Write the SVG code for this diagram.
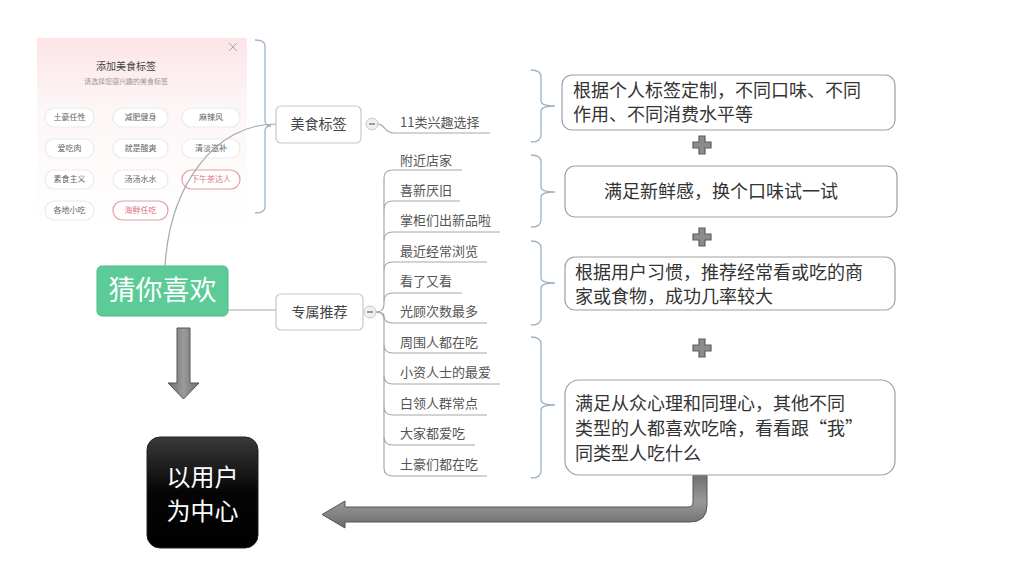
<svg xmlns="http://www.w3.org/2000/svg" width="1024" height="576" viewBox="0 0 1024 576">
<defs>
<linearGradient id="pinkbg" x1="0" y1="0" x2="0" y2="1">
<stop offset="0" stop-color="#fce4e7"/><stop offset="0.35" stop-color="#fdf6f6"/><stop offset="1" stop-color="#ffffff"/>
</linearGradient>
<linearGradient id="blk" x1="0" y1="0" x2="0" y2="1">
<stop offset="0" stop-color="#3a3a3a"/><stop offset="0.5" stop-color="#050505"/><stop offset="1" stop-color="#000"/>
</linearGradient>
<linearGradient id="grayv" x1="0" y1="0" x2="1" y2="0">
<stop offset="0" stop-color="#6e6e6e"/><stop offset="0.5" stop-color="#9a9a9a"/><stop offset="1" stop-color="#6e6e6e"/>
</linearGradient>
<linearGradient id="grayh" x1="0" y1="0" x2="0" y2="1">
<stop offset="0" stop-color="#707070"/><stop offset="0.5" stop-color="#999"/><stop offset="1" stop-color="#6a6a6a"/>
</linearGradient>
<symbol id="plus" viewBox="0 0 20 20">
<path d="M7 1h6v6h6v6h-6v6h-6v-6h-6v-6h6z" fill="#8c8c8c" stroke="#5e5e5e" stroke-width="1.2"/>
</symbol>
</defs>
<style>
text{font-family:"Noto Sans CJK SC","Noto Sans",sans-serif}
.pill{fill:#fff;stroke:#ececec;stroke-width:1.2}
.pillp{fill:#fff;stroke:#e3a0a8;stroke-width:1.2}
.pt{font-size:8px;fill:#666;text-anchor:middle}
.ptp{font-size:8px;fill:#e07080;text-anchor:middle}
.node{fill:#fff;stroke:#c8c8c8;stroke-width:1.2}
.nt{font-size:14px;fill:#444;text-anchor:middle}
.sub{font-size:13px;fill:#555}
.conn{fill:none;stroke:#a8a8a8;stroke-width:1.2}
.brace{fill:none;stroke:#9fb3c8;stroke-width:1.3}
.box{fill:#fff;stroke:#a0a0a0;stroke-width:1.2}
.bt{font-size:18px;fill:#333}
.tog{fill:#efefef;stroke:#c8c8c8;stroke-width:1}
</style>
<rect width="1024" height="576" fill="#fff"/>

<g id="screenshot">
<rect x="37" y="38" width="210" height="193" fill="url(#pinkbg)"/>
<path d="M229 43l8 8M237 43l-8 8" stroke="#aaa" stroke-width="1"/>
<text x="126" y="70" font-size="10" fill="#444" text-anchor="middle">添加美食标签</text>
<text x="126" y="84" font-size="7" fill="#999" text-anchor="middle">请选择您感兴趣的美食标签</text>
<rect class="pill" x="45" y="108" width="49" height="19" rx="9.5"/><text class="pt" x="69.5" y="120">土豪任性</text>
<rect class="pill" x="113" y="108" width="55" height="19" rx="9.5"/><text class="pt" x="140.5" y="120">减肥健身</text>
<rect class="pill" x="182" y="108" width="58" height="19" rx="9.5"/><text class="pt" x="211" y="120">麻辣风</text>
<rect class="pill" x="45" y="139" width="49" height="19" rx="9.5"/><text class="pt" x="69.5" y="151">爱吃肉</text>
<rect class="pill" x="113" y="139" width="55" height="19" rx="9.5"/><text class="pt" x="140.5" y="151">就是酸爽</text>
<rect class="pill" x="182" y="139" width="58" height="19" rx="9.5"/><text class="pt" x="211" y="151">清淡滋补</text>
<rect class="pill" x="45" y="170" width="49" height="19" rx="9.5"/><text class="pt" x="69.5" y="182">素食主义</text>
<rect class="pill" x="113" y="170" width="55" height="19" rx="9.5"/><text class="pt" x="140.5" y="182">汤汤水水</text>
<rect class="pillp" x="182" y="170" width="58" height="19" rx="9.5"/><text class="ptp" x="211" y="182">下午茶达人</text>
<rect class="pill" x="45" y="201" width="49" height="19" rx="9.5"/><text class="pt" x="69.5" y="213">各地小吃</text>
<rect class="pillp" x="113" y="201" width="55" height="19" rx="9.5"/><text class="ptp" x="140.5" y="213">海鲜任吃</text>
</g>

<g id="connectors">
<path class="conn" d="M165 266 C170 185 215 124 276 124"/>
<path class="conn" d="M228 310 L276 310"/>
<path class="conn" d="M378 124 C385 124 384 133 394 133 L490 133"/>
<path class="conn" d="M376 312 Q384 312 384 304 L384 178 Q384 170 393 170 L462 170"/>
<path class="conn" d="M384 209 Q384 201 393 201 L460 201"/>
<path class="conn" d="M384 240 Q384 232 393 232 L500 232"/>
<path class="conn" d="M384 270 Q384 262 393 262 L487 262"/>
<path class="conn" d="M384 301 Q384 293 393 293 L462 293"/>
<path class="conn" d="M376 312 Q384 312 384 316 Q384 323 393 323 L487 323"/>
<path class="conn" d="M376 312 Q384 312 384 320 L384 345 Q384 353 393 353 L487 353"/>
<path class="conn" d="M384 376 Q384 384 393 384 L500 384"/>
<path class="conn" d="M384 407 Q384 415 393 415 L487 415"/>
<path class="conn" d="M384 437 Q384 445 393 445 L475 445"/>
<path class="conn" d="M384 345 L384 468 Q384 476 393 476 L487 476"/>
<path class="brace" d="M255 40 Q265 40 265 46 L265 121 Q265 126 271 126 Q265 126 265 131 L265 207 Q265 213 255 213"/>
<path class="brace" d="M531 70 Q541 70 541 77 L541 101 Q541 106 555 106 Q541 106 541 111 L541 135 Q541 142 531 142"/>
<path class="brace" d="M531 155 Q541 155 541 162 L541 187 Q541 192 555 192 Q541 192 541 197 L541 220 Q541 227 531 227"/>
<path class="brace" d="M531 241 Q541 241 541 248 L541 278 Q541 283 555 283 Q541 283 541 288 L541 318 Q541 325 531 325"/>
<path class="brace" d="M531 337 Q541 337 541 344 L541 400 Q541 405 555 405 Q541 405 541 410 L541 471 Q541 478 531 478"/>
<path d="M177 328 H190 V383 H199 L183.5 399 L168 383 H177 Z" fill="url(#grayv)" stroke="#555" stroke-width="1"/>
<path d="M693 475 H707 V505 Q707 522 690 522 H345 V528 L322 514.5 L345 501 V507 H688 Q693 507 693 502 Z" fill="url(#grayh)" stroke="#555" stroke-width="1"/>
</g>

<g id="node-guess">
<rect x="97" y="266" width="131" height="50" rx="5" fill="#5dcb98" stroke="#52b888" stroke-width="1"/>
<text x="162.5" y="300" font-size="27" fill="#fff" text-anchor="middle">猜你喜欢</text>
</g>
<g id="node-tags">
<rect class="node" x="276" y="106" width="85" height="37" rx="5"/>
<text class="nt" x="318.5" y="129">美食标签</text>
<circle class="tog" cx="372" cy="124" r="6"/><path d="M369 124h6" stroke="#666" stroke-width="1.2"/>
</g>
<g id="node-exclusive">
<rect class="node" x="276" y="294" width="87" height="36" rx="5"/>
<text class="nt" x="319.5" y="317">专属推荐</text>
<circle class="tog" cx="370" cy="312" r="6"/><path d="M367 312h6" stroke="#666" stroke-width="1.2"/>
</g>
<g id="node-sub-items">
<text class="sub" x="400" y="127">11类兴趣选择</text>
<text class="sub" x="400" y="165">附近店家</text>
<text class="sub" x="400" y="195">喜新厌旧</text>
<text class="sub" x="400" y="225">掌柜们出新品啦</text>
<text class="sub" x="400" y="256">最近经常浏览</text>
<text class="sub" x="400" y="286">看了又看</text>
<text class="sub" x="400" y="316">光顾次数最多</text>
<text class="sub" x="400" y="347">周围人都在吃</text>
<text class="sub" x="400" y="377">小资人士的最爱</text>
<text class="sub" x="400" y="408">白领人群常点</text>
<text class="sub" x="400" y="438">大家都爱吃</text>
<text class="sub" x="400" y="469">土豪们都在吃</text>
</g>
<g id="box1">
<rect class="box" x="562" y="75" width="333" height="55" rx="10"/>
<text class="bt" x="573" y="97">根据个人标签定制，不同口味、不同</text>
<text class="bt" x="573" y="121">作用、不同消费水平等</text>
</g>
<g id="box2">
<rect class="box" x="565" y="166" width="332" height="51" rx="10"/>
<text class="bt" x="604" y="198">满足新鲜感，换个口味试一试</text>
</g>
<g id="box3">
<rect class="box" x="565" y="257" width="330" height="53" rx="10"/>
<text class="bt" x="575" y="279">根据用户习惯，推荐经常看或吃的商</text>
<text class="bt" x="575" y="303">家或食物，成功几率较大</text>
</g>
<g id="box4">
<rect class="box" x="565" y="380" width="330" height="95" rx="14"/>
<text class="bt" x="575" y="410">满足从众心理和同理心，其他不同</text>
<text class="bt" x="575" y="435">类型的人都喜欢吃啥，看看跟“我”</text>
<text class="bt" x="575" y="460">同类型人吃什么</text>
</g>
<g id="plus-signs">
<use href="#plus" x="692" y="135" width="20" height="20"/>
<use href="#plus" x="692" y="227" width="20" height="20"/>
<use href="#plus" x="692" y="338" width="20" height="20"/>
</g>
<g id="node-center">
<rect x="147" y="437" width="111" height="111" rx="13" fill="url(#blk)" stroke="#222"/>
<text x="202.5" y="486" font-size="24" fill="#fff" text-anchor="middle">以用户</text>
<text x="202.5" y="520" font-size="24" fill="#fff" text-anchor="middle">为中心</text>
</g>
</svg>
